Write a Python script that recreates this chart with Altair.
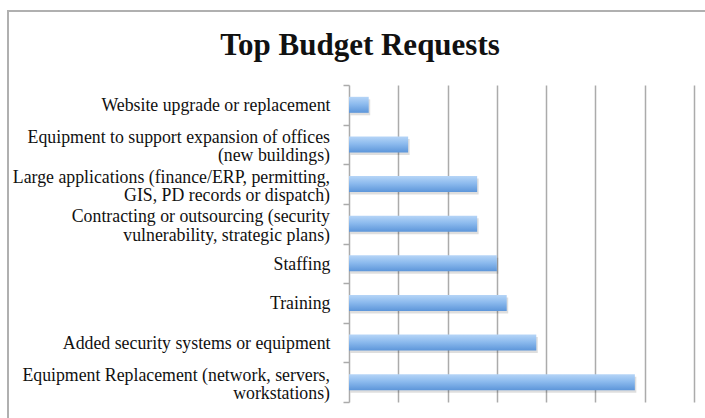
import altair as alt
import pandas as pd

title_text = "Top Budget Requests"
categories = [
    "Website upgrade or replacement",
    "Equipment to support expansion of offices|(new buildings)",
    "Large applications (finance/ERP, permitting,|GIS, PD records or dispatch)",
    "Contracting or outsourcing (security|vulnerability, strategic plans)",
    "Staffing",
    "Training",
    "Added security systems or equipment",
    "Equipment Replacement (network, servers,|workstations)",
]
values = [2, 6, 13, 13, 15, 16, 19, 29]
x_ticks = [5, 10, 15, 20, 25, 30, 35]

df = pd.DataFrame({"category": categories, "value": values})
title_df = pd.DataFrame({"t": [title_text]})

FONT = "Liberation Serif"
LABEL_SIZE = 17.8
GRID = "#ababab"

y_enc = alt.Y(
    "category:N",
    sort=categories,
    scale=alt.Scale(paddingInner=0, paddingOuter=0),
    axis=alt.Axis(
        title=None,
        tickBand="extent",
        labelExpr="indexof(datum.label, '|') >= 0 ? '' : datum.label",
        labelFont=FONT,
        labelFontSize=LABEL_SIZE,
        labelColor="#111",
        labelPadding=13,
        labelLimit=400,
        labelOffset=1,
        tickSize=6,
        tickColor=GRID,
        tickWidth=1.5,
        domainColor=GRID,
        domainWidth=1.5,
        grid=False,
    ),
)
x_enc = alt.X(
    "value:Q",
    scale=alt.Scale(domain=[0, 35], nice=False),
    axis=alt.Axis(
        title=None,
        labels=False,
        ticks=False,
        domain=False,
        grid=True,
        values=x_ticks,
        gridColor=GRID,
        gridWidth=1.5,
    ),
)

gradient = alt.LinearGradient(
    gradient="linear",
    x1=0, y1=0, x2=0, y2=1,
    stops=[
        alt.GradientStop(color="#b6d5f7", offset=0),
        alt.GradientStop(color="#8dbbee", offset=0.45),
        alt.GradientStop(color="#5d96da", offset=1),
    ],
)

frame = alt.Chart(title_df).mark_rect(
    fill=None, stroke="#b0b0b0", strokeWidth=2
).encode(
    x=alt.value(-341), x2=alt.value(380),
    y=alt.value(-74), y2=alt.value(360),
)

title = alt.Chart(title_df).mark_text(
    font=FONT, fontSize=31, fontWeight="bold", color="#111",
    align="center", baseline="alphabetic",
).encode(
    text="t:N",
    x=alt.value(11),
    y=alt.value(-30),
)

shadow = alt.Chart(df).mark_bar(
    size=16, color="#000000", opacity=0.13, xOffset=1.5, yOffset=2.5
).encode(x=x_enc, y=y_enc)

bars = alt.Chart(df).mark_bar(size=16, color=gradient).encode(x=x_enc, y=y_enc)

two_line = alt.Chart(df).transform_filter(
    "indexof(datum.category, '|') >= 0"
).transform_calculate(
    line1="split(datum.category, '|')[0]",
    line2="split(datum.category, '|')[1]",
)

line1 = two_line.mark_text(
    font=FONT, fontSize=LABEL_SIZE, color="#111", align="right",
    baseline="middle", dy=-6.5,
).encode(text="line1:N", y=y_enc, x=alt.value(-19))

line2 = two_line.mark_text(
    font=FONT, fontSize=LABEL_SIZE, color="#111", align="right",
    baseline="middle", dy=12,
).encode(text="line2:N", y=y_enc, x=alt.value(-19))

chart = alt.layer(frame, title, shadow, bars, line1, line2).properties(
    width=345,
    height=317,
    padding={"left": 349, "top": 85, "right": 11, "bottom": 16},
    autosize=alt.AutoSizeParams(type="none"),
).configure_view(stroke=None)

chart.save("out.html", embed_options={"renderer": "svg", "actions": False})
